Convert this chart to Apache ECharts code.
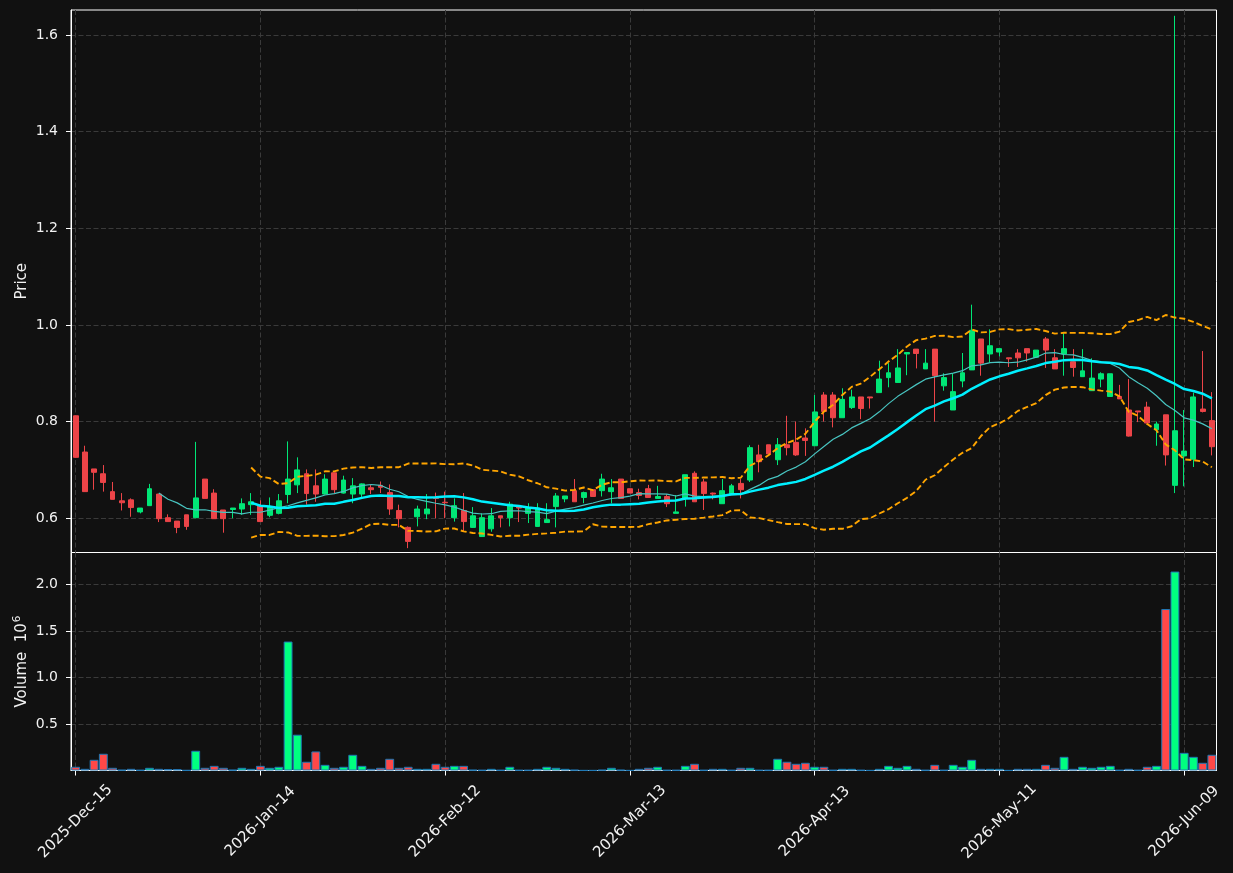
<!DOCTYPE html>
<html>
<head>
<meta charset="utf-8">
<script src="https://cdn.jsdelivr.net/npm/echarts@6/dist/echarts.min.js"></script>
<style>
html, body { margin: 0; padding: 0; background: #111111; }
#main { width: 1233px; height: 873px; }
</style>
</head>
<body>
<div id="main"></div>
<script>
// trading days: weekdays from firstDay to lastDay, minus exchange holidays
var firstDay = '2025-12-15';
var lastDay = '2026-06-12';
var holidays = ['2025-12-25', '2026-01-01', '2026-01-19', '2026-02-16', '2026-04-03', '2026-05-25'];
var monthNames = ['Jan', 'Feb', 'Mar', 'Apr', 'May', 'Jun', 'Jul', 'Aug', 'Sep', 'Oct', 'Nov', 'Dec'];

var opens = [
  0.812, 0.737, 0.702, 0.692, 0.655, 0.636, 0.638, 0.613, 0.626, 0.650,
  0.601, 0.594, 0.607, 0.601, 0.681, 0.652, 0.617, 0.618, 0.619, 0.628,
  0.626, 0.606, 0.610, 0.649, 0.669, 0.692, 0.667, 0.650, 0.694, 0.652,
  0.650, 0.650, 0.663, 0.668, 0.653, 0.616, 0.581, 0.603, 0.609, 0.643,
  0.633, 0.601, 0.616, 0.581, 0.562, 0.578, 0.605, 0.601, 0.624, 0.610,
  0.583, 0.591, 0.624, 0.640, 0.657, 0.643, 0.659, 0.657, 0.655, 0.681,
  0.661, 0.653, 0.661, 0.641, 0.645, 0.610, 0.641, 0.693, 0.675, 0.652,
  0.630, 0.650, 0.672, 0.679, 0.731, 0.752, 0.721, 0.752, 0.757, 0.766,
  0.750, 0.855, 0.855, 0.808, 0.829, 0.851, 0.851, 0.860, 0.891, 0.881,
  0.940, 0.950, 0.909, 0.950, 0.874, 0.824, 0.884, 0.907, 0.971, 0.940,
  0.944, 0.932, 0.942, 0.951, 0.933, 0.971, 0.932, 0.940, 0.924, 0.893,
  0.864, 0.888, 0.852, 0.852, 0.824, 0.822, 0.830, 0.783, 0.814, 0.668,
  0.729, 0.722, 0.826, 0.802
];
var highs = [
  0.812, 0.750, 0.702, 0.710, 0.675, 0.652, 0.641, 0.621, 0.671, 0.650,
  0.608, 0.594, 0.607, 0.758, 0.681, 0.660, 0.617, 0.621, 0.641, 0.652,
  0.637, 0.643, 0.650, 0.759, 0.726, 0.701, 0.701, 0.691, 0.694, 0.688,
  0.683, 0.672, 0.669, 0.676, 0.670, 0.628, 0.583, 0.626, 0.650, 0.653,
  0.655, 0.641, 0.652, 0.623, 0.610, 0.621, 0.605, 0.634, 0.624, 0.631,
  0.631, 0.631, 0.652, 0.646, 0.681, 0.655, 0.659, 0.692, 0.681, 0.681,
  0.661, 0.661, 0.669, 0.667, 0.650, 0.648, 0.690, 0.697, 0.681, 0.653,
  0.681, 0.671, 0.681, 0.751, 0.752, 0.752, 0.766, 0.812, 0.800, 0.786,
  0.855, 0.861, 0.861, 0.869, 0.866, 0.851, 0.851, 0.926, 0.921, 0.950,
  0.943, 0.950, 0.950, 0.950, 0.900, 0.900, 0.942, 1.042, 0.971, 0.991,
  0.951, 0.932, 0.950, 0.951, 0.948, 0.975, 0.950, 0.983, 0.950, 0.950,
  0.931, 0.902, 0.899, 0.876, 0.888, 0.822, 0.841, 0.800, 0.814, 1.640,
  0.824, 0.860, 0.946, 0.861
];
var lows = [
  0.725, 0.655, 0.659, 0.655, 0.639, 0.616, 0.603, 0.610, 0.626, 0.592,
  0.593, 0.569, 0.576, 0.601, 0.641, 0.599, 0.570, 0.600, 0.607, 0.607,
  0.593, 0.602, 0.608, 0.631, 0.652, 0.628, 0.634, 0.649, 0.652, 0.651,
  0.631, 0.641, 0.650, 0.652, 0.607, 0.581, 0.538, 0.583, 0.598, 0.600,
  0.600, 0.593, 0.572, 0.580, 0.562, 0.572, 0.581, 0.583, 0.592, 0.590,
  0.583, 0.591, 0.581, 0.633, 0.634, 0.631, 0.645, 0.645, 0.631, 0.641,
  0.652, 0.639, 0.643, 0.641, 0.623, 0.610, 0.624, 0.634, 0.617, 0.639,
  0.630, 0.648, 0.641, 0.675, 0.695, 0.733, 0.710, 0.730, 0.729, 0.729,
  0.750, 0.800, 0.788, 0.808, 0.826, 0.805, 0.827, 0.860, 0.871, 0.881,
  0.896, 0.910, 0.909, 0.800, 0.864, 0.824, 0.871, 0.907, 0.895, 0.922,
  0.935, 0.913, 0.913, 0.924, 0.933, 0.911, 0.909, 0.895, 0.893, 0.893,
  0.864, 0.871, 0.851, 0.847, 0.769, 0.799, 0.797, 0.750, 0.709, 0.652,
  0.666, 0.706, 0.819, 0.730
];
var closes = [
  0.726, 0.655, 0.695, 0.674, 0.639, 0.632, 0.622, 0.621, 0.661, 0.599,
  0.593, 0.581, 0.583, 0.642, 0.641, 0.599, 0.599, 0.621, 0.630, 0.634,
  0.593, 0.624, 0.636, 0.681, 0.700, 0.651, 0.650, 0.681, 0.659, 0.679,
  0.667, 0.671, 0.659, 0.664, 0.619, 0.599, 0.552, 0.619, 0.619, 0.641,
  0.632, 0.626, 0.593, 0.605, 0.601, 0.605, 0.601, 0.629, 0.621, 0.622,
  0.621, 0.597, 0.646, 0.646, 0.634, 0.653, 0.645, 0.681, 0.663, 0.641,
  0.652, 0.647, 0.643, 0.645, 0.630, 0.613, 0.690, 0.634, 0.651, 0.650,
  0.657, 0.667, 0.659, 0.746, 0.717, 0.733, 0.752, 0.746, 0.731, 0.761,
  0.820, 0.821, 0.808, 0.846, 0.851, 0.827, 0.849, 0.888, 0.901, 0.911,
  0.943, 0.941, 0.921, 0.895, 0.891, 0.862, 0.901, 0.989, 0.921, 0.957,
  0.951, 0.930, 0.932, 0.942, 0.948, 0.948, 0.909, 0.951, 0.912, 0.905,
  0.890, 0.899, 0.899, 0.847, 0.770, 0.820, 0.797, 0.795, 0.731, 0.781,
  0.739, 0.851, 0.821, 0.748
];
// volume in millions
var volumes = [
  0.040, 0.018, 0.115, 0.180, 0.029, 0.007, 0.018, 0.005, 0.029, 0.018,
  0.015, 0.015, 0.003, 0.212, 0.029, 0.050, 0.029, 0.007, 0.029, 0.018,
  0.050, 0.029, 0.040, 1.387, 0.385, 0.094, 0.205, 0.061, 0.029, 0.040,
  0.169, 0.050, 0.018, 0.029, 0.126, 0.029, 0.040, 0.018, 0.018, 0.072,
  0.040, 0.050, 0.050, 0.007, 0.005, 0.018, 0.005, 0.040, 0.005, 0.005,
  0.018, 0.040, 0.029, 0.018, 0.007, 0.002, 0.002, 0.007, 0.029, 0.007,
  0.002, 0.018, 0.029, 0.040, 0.005, 0.005, 0.050, 0.072, 0.005, 0.018,
  0.018, 0.005, 0.029, 0.029, 0.005, 0.005, 0.126, 0.094, 0.072, 0.083,
  0.040, 0.040, 0.005, 0.018, 0.018, 0.005, 0.002, 0.018, 0.050, 0.029,
  0.050, 0.018, 0.005, 0.061, 0.005, 0.061, 0.040, 0.115, 0.018, 0.018,
  0.018, 0.002, 0.018, 0.018, 0.018, 0.061, 0.029, 0.147, 0.018, 0.040,
  0.029, 0.040, 0.050, 0.005, 0.018, 0.005, 0.040, 0.050, 1.737, 2.140,
  0.190, 0.147, 0.083, 0.169
];
var priceTicks = [0.6, 0.8, 1.0, 1.2, 1.4, 1.6];
var volumeTicks = [0.5, 1.0, 1.5, 2.0];
var labelEvery = 20;

var upColor = '#00e676';
var downColor = '#ec4448';
var volUp = '#00ff80';
var volDown = '#ff4848';
var textColor = '#f2f2f2';
var gridColor = '#3a3a3a';
var font = 'DejaVu Sans';

function pad(n) { return n < 10 ? '0' + n : '' + n; }

var dates = [];
(function () {
  var d = new Date(firstDay + 'T00:00:00Z');
  var end = new Date(lastDay + 'T00:00:00Z');
  while (d <= end) {
    var iso = d.getUTCFullYear() + '-' + pad(d.getUTCMonth() + 1) + '-' + pad(d.getUTCDate());
    var wd = d.getUTCDay();
    if (wd !== 0 && wd !== 6 && holidays.indexOf(iso) < 0) {
      dates.push(d.getUTCFullYear() + '-' + monthNames[d.getUTCMonth()] + '-' + pad(d.getUTCDate()));
    }
    d.setUTCDate(d.getUTCDate() + 1);
  }
})();

function movingAvg(arr, n) {
  var out = [];
  for (var i = 0; i < arr.length; i++) {
    if (i < n - 1) { out.push('-'); continue; }
    var s = 0;
    for (var j = i - n + 1; j <= i; j++) s += arr[j];
    out.push(+(s / n).toFixed(5));
  }
  return out;
}

function bollinger(arr, n, k) {
  var up = [], lo = [];
  for (var i = 0; i < arr.length; i++) {
    if (i < n - 1) { up.push('-'); lo.push('-'); continue; }
    var s = 0, j;
    for (j = i - n + 1; j <= i; j++) s += arr[j];
    var m = s / n, v = 0;
    for (j = i - n + 1; j <= i; j++) v += (arr[j] - m) * (arr[j] - m);
    var sd = Math.sqrt(v / n);
    up.push(+(m + k * sd).toFixed(5));
    lo.push(+(m - k * sd).toFixed(5));
  }
  return [up, lo];
}

var candles = opens.map(function (o, i) { return [o, closes[i], lows[i], highs[i]]; });
var volData = volumes.map(function (v, i) {
  return { value: v, itemStyle: { color: closes[i] >= opens[i] ? volUp : volDown } };
});
var ma10 = movingAvg(closes, 10);
var ma20 = movingAvg(closes, 20);
var bb = bollinger(closes, 20, 2);

function showEvery(idx) { return idx % labelEvery === 0; }

var dashed = { color: gridColor, width: 1, type: [5, 2.5] };

var myChart = echarts.init(document.getElementById('main'), null, { renderer: 'canvas' });

var option = {
  backgroundColor: '#111111',
  animation: false,
  textStyle: { fontFamily: font },
  grid: [
    { left: 71, right: 16.5, top: 10, height: 542.5, show: true, borderColor: '#ffffff', borderWidth: 1, outerBoundsMode: 'none' },
    { left: 71, right: 16.5, top: 552.5, height: 218, show: true, borderColor: '#ffffff', borderWidth: 1, outerBoundsMode: 'none' }
  ],
  xAxis: [
    {
      type: 'category', gridIndex: 0, data: dates, boundaryGap: true,
      axisLine: { show: false }, axisTick: { show: false }, axisLabel: { show: false },
      splitLine: { show: true, interval: showEvery, alignWithLabel: true, lineStyle: dashed }
    },
    {
      type: 'category', gridIndex: 1, data: dates, boundaryGap: true,
      axisLine: { show: true, lineStyle: { color: '#ffffff', width: 1 } },
      axisTick: { show: true, interval: showEvery, alignWithLabel: true, length: 5, lineStyle: { color: '#ffffff' } },
      axisLabel: {
        show: true, interval: showEvery, rotate: 45, align: 'center', verticalAlign: 'middle',
        margin: 51, color: textColor, fontSize: 15, fontFamily: font
      },
      splitLine: { show: true, interval: showEvery, alignWithLabel: true, lineStyle: dashed }
    }
  ],
  yAxis: [
    {
      type: 'value', gridIndex: 0, min: 0.529, max: 1.652,
      name: 'Price', nameLocation: 'middle', nameGap: 41, nameMoveOverlap: false,
      nameTextStyle: { color: textColor, fontSize: 15, fontFamily: font },
      axisLine: { show: true, lineStyle: { color: '#ffffff' } },
      axisTick: { show: true, length: 5, customValues: priceTicks, lineStyle: { color: '#ffffff' } },
      axisLabel: {
        customValues: priceTicks, margin: 13, color: textColor, fontSize: 14, fontFamily: font,
        formatter: function (v) { return v.toFixed(1); }
      },
      splitLine: { show: true, lineStyle: dashed }
    },
    {
      type: 'value', gridIndex: 1, min: 0, max: 2.345,
      name: '{a|Volume  10}{s|6}', nameLocation: 'middle', nameGap: 39, nameMoveOverlap: false,
      nameTextStyle: {
        color: textColor, fontSize: 15, fontFamily: font,
        rich: {
          a: { color: textColor, fontSize: 15, fontFamily: font },
          s: { color: textColor, fontSize: 10.5, fontFamily: font, verticalAlign: 'top', padding: [0, 0, 9, 1] }
        }
      },
      axisLine: { show: true, lineStyle: { color: '#ffffff' } },
      axisTick: { show: true, length: 5, customValues: volumeTicks, lineStyle: { color: '#ffffff' } },
      axisLabel: {
        customValues: volumeTicks, margin: 13, color: textColor, fontSize: 14, fontFamily: font,
        formatter: function (v) { return v.toFixed(1); }
      },
      splitLine: { show: true, lineStyle: dashed }
    }
  ],
  series: [
    {
      name: 'price', type: 'candlestick', xAxisIndex: 0, yAxisIndex: 0,
      data: candles, barWidth: '58%', z: 2,
      itemStyle: { color: upColor, color0: downColor, borderColor: upColor, borderColor0: downColor, borderWidth: 1 }
    },
    {
      name: 'MA10', type: 'line', xAxisIndex: 0, yAxisIndex: 0, data: ma10,
      showSymbol: false, symbol: 'none', z: 3,
      lineStyle: { color: '#48c4c0', width: 1.2 }
    },
    {
      name: 'MA20', type: 'line', xAxisIndex: 0, yAxisIndex: 0, data: ma20,
      showSymbol: false, symbol: 'none', z: 4,
      lineStyle: { color: '#00f0ff', width: 2.5 }
    },
    {
      name: 'BB upper', type: 'line', xAxisIndex: 0, yAxisIndex: 0, data: bb[0],
      showSymbol: false, symbol: 'none', z: 3,
      lineStyle: { color: '#ffa500', width: 1.9, type: [6, 3] }
    },
    {
      name: 'BB lower', type: 'line', xAxisIndex: 0, yAxisIndex: 0, data: bb[1],
      showSymbol: false, symbol: 'none', z: 3,
      lineStyle: { color: '#ffa500', width: 1.9, type: [6, 3] }
    },
    {
      name: 'volume', type: 'bar', xAxisIndex: 1, yAxisIndex: 1, data: volData,
      barWidth: '96%',
      itemStyle: { borderColor: '#1f77b4', borderWidth: 1 }
    }
  ]
};

myChart.setOption(option);
</script>
</body>
</html>
